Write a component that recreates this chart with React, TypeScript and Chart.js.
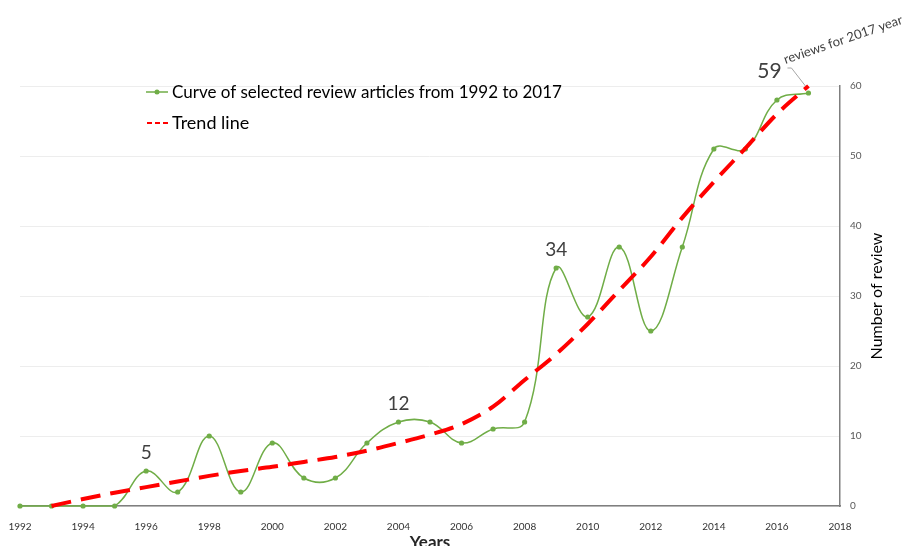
import React, { useEffect, useRef } from "react";
import { Chart, registerables } from "chart.js";

Chart.register(...registerables);

// ---- data ----
const years = [1992, 1993, 1994, 1995, 1996, 1997, 1998, 1999, 2000, 2001, 2002, 2003, 2004, 2005, 2006, 2007, 2008, 2009, 2010, 2011, 2012, 2013, 2014, 2015, 2016, 2017];
const reviewCounts = [0, 0, 0, 0, 5, 2, 10, 2, 9, 4, 4, 9, 12, 12, 9, 11, 12, 34, 27, 37, 25, 37, 51, 51, 58, 59];
const trendYears = [1993, 1994, 1995, 1996, 1997, 1998, 1999, 2000, 2001, 2002, 2003, 2004, 2005, 2006, 2007, 2008, 2009, 2010, 2011, 2012, 2013, 2014, 2015, 2016, 2017];
const trendValues = [0, 1.0, 1.9, 2.7, 3.5, 4.3, 5.0, 5.6, 6.3, 7.0, 7.9, 9.0, 10.2, 11.7, 14.2, 18.0, 21.7, 26.0, 30.8, 35.6, 41.2, 46.3, 51.1, 56.0, 60.0];
const calloutYears = [1996, 2004, 2009];
const finalYear = 2017;
const xMin = 1992;
const xMax = 2018;
const xStep = 2;
const yMin = 0;
const yMax = 60;
const yStep = 10;

const curveLabel = "Curve of selected review articles from 1992 to 2017";
const trendLabel = "Trend line";
const xTitle = "Years";
const yTitle = "Number of review";
const finalNote = "reviews for 2017 year";

const FONT = "Lato, 'Open Sans', sans-serif";
const GREEN = "#70AD47";
const RED = "#FF0000";
const TEXT = "#404040";

const overlayPlugin = {
  id: "overlay",
  afterDraw(chart: any) {
    const { ctx, chartArea, scales } = chart;
    const xs = scales.x;
    const ys = scales.y;
    ctx.save();

    // callouts
    ctx.fillStyle = TEXT;
    ctx.textAlign = "center";
    ctx.textBaseline = "alphabetic";
    ctx.font = `19px ${FONT}`;
    calloutYears.forEach((yr) => {
      const v = reviewCounts[years.indexOf(yr)];
      ctx.fillText(String(v), xs.getPixelForValue(yr), ys.getPixelForValue(v) - 12);
    });

    // final callout
    const fv = reviewCounts[years.indexOf(finalYear)];
    const fx = xs.getPixelForValue(finalYear);
    const fy = ys.getPixelForValue(fv);
    ctx.font = `21px ${FONT}`;
    ctx.fillText(String(fv), fx - 39, fy - 15);
    ctx.strokeStyle = "#A6A6A6";
    ctx.lineWidth = 1;
    ctx.beginPath();
    ctx.moveTo(fx - 21, fy - 25);
    ctx.lineTo(fx - 17, fy - 25);
    ctx.lineTo(fx - 3, fy - 7);
    ctx.stroke();
    ctx.save();
    ctx.translate(fx - 23, fy - 29);
    ctx.rotate(-19 * Math.PI / 180);
    ctx.textAlign = "left";
    ctx.font = `13px ${FONT}`;
    ctx.fillText(finalNote, 0, 0);
    ctx.restore();

    // legend
    const lx = 146;
    const ly1 = 92;
    const ly2 = 123;
    ctx.strokeStyle = GREEN;
    ctx.lineWidth = 1.5;
    ctx.beginPath();
    ctx.moveTo(lx, ly1);
    ctx.lineTo(lx + 22, ly1);
    ctx.stroke();
    ctx.fillStyle = GREEN;
    ctx.beginPath();
    ctx.arc(lx + 11, ly1, 2.5, 0, Math.PI * 2);
    ctx.fill();
    ctx.strokeStyle = RED;
    ctx.lineWidth = 2;
    ctx.setLineDash([5, 3]);
    ctx.beginPath();
    ctx.moveTo(lx + 1, ly2);
    ctx.lineTo(lx + 22, ly2);
    ctx.stroke();
    ctx.setLineDash([]);
    ctx.fillStyle = "#000000";
    ctx.textAlign = "left";
    ctx.font = `17px ${FONT}`;
    ctx.fillText(curveLabel, 172, ly1 + 6);
    ctx.font = `18px ${FONT}`;
    ctx.fillText(trendLabel, 172, ly2 + 6);

    // axis titles
    ctx.fillStyle = "#000000";
    ctx.font = `16px ${FONT}`;
    ctx.save();
    ctx.translate(877, (chartArea.top + chartArea.bottom) / 2);
    ctx.rotate(-Math.PI / 2);
    ctx.textAlign = "center";
    ctx.textBaseline = "middle";
    ctx.fillText(yTitle, 0, 0);
    ctx.restore();

    ctx.font = `bold 17px ${FONT}`;
    ctx.textAlign = "center";
    ctx.fillStyle = "#262626";
    ctx.fillText(xTitle, (chartArea.left + chartArea.right) / 2, 548);

    ctx.restore();
  },
};

export default function App() {
  const ref = useRef<HTMLCanvasElement | null>(null);

  useEffect(() => {
    if (!ref.current) return;
    const chart = new Chart(ref.current, {
      type: "line",
      data: {
        datasets: [
          {
            label: curveLabel,
            data: years.map((y, i) => ({ x: y, y: reviewCounts[i] })),
            borderColor: GREEN,
            backgroundColor: GREEN,
            borderWidth: 1.5,
            pointRadius: 2.6,
            pointBorderWidth: 0,
            pointBackgroundColor: GREEN,
            tension: 0.4,
            clip: false,
            order: 2,
          },
          {
            label: trendLabel,
            data: trendYears.map((y, i) => ({ x: y, y: trendValues[i] })),
            borderColor: RED,
            backgroundColor: RED,
            borderWidth: 4,
            borderDash: [20, 10],
            pointRadius: 0,
            tension: 0.4,
            cubicInterpolationMode: "monotone",
            clip: false,
            order: 1,
          },
        ],
      },
      options: {
        responsive: false,
        animation: false,
        devicePixelRatio: 1,
        layout: { padding: { left: 20, top: 86, right: 0, bottom: 0 } },
        plugins: { legend: { display: false }, tooltip: { enabled: false } },
        font: { family: FONT },
        scales: {
          x: {
            type: "linear",
            min: xMin,
            max: xMax,
            afterFit: (s: any) => { s.height = 40; },
            ticks: {
              stepSize: xStep,
              color: "#333333",
              font: { size: 10, family: FONT },
              padding: 7,
              maxRotation: 0,
              callback: (v: any) => String(v),
            },
            grid: { display: false },
            border: { display: true, color: "#7F7F7F", width: 1.5 },
          },
          y: {
            position: "right",
            min: yMin,
            max: yMax,
            afterFit: (s: any) => { s.width = 62; },
            ticks: {
              stepSize: yStep,
              color: "#595959",
              font: { size: 10, family: FONT },
              padding: 10,
            },
            grid: { color: "#EDEDED", drawTicks: false, lineWidth: 1 },
            border: { display: true, color: "#7F7F7F", width: 1.5 },
          },
        },
      } as any,
      plugins: [overlayPlugin],
    });
    return () => chart.destroy();
  }, []);

  return (
    <div style={{ position: "fixed", left: 0, top: 0, width: 902, height: 546, background: "#ffffff" }}>
      <canvas ref={ref} width={902} height={546} style={{ width: 902, height: 546, display: "block" }} />
    </div>
  );
}
